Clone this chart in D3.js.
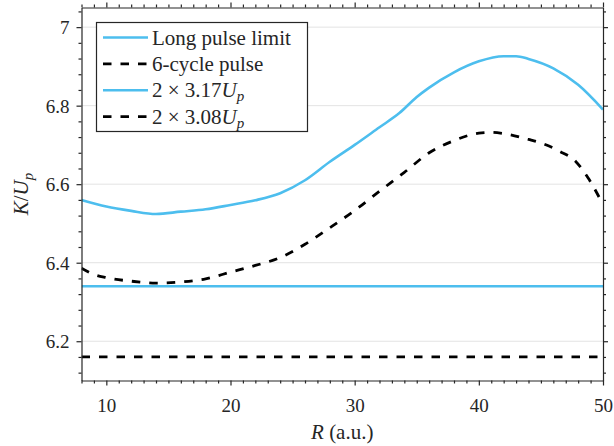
<!DOCTYPE html>
<html>
<head>
<meta charset="utf-8">
<script src="https://cdn.jsdelivr.net/npm/d3@7/dist/d3.min.js"></script>
<style>
  body { margin: 0; background: #fff; }
  .axis path, .axis line { stroke: #262626; stroke-width: 1.2; }
</style>
</head>
<body>
<svg width="614" height="446"></svg>
<script>
// R values (a.u.) for each curve
const rLong = [8, 10, 12, 14, 16, 18, 20, 22, 24, 26, 28, 30, 32, 33.6, 35, 36, 38, 40, 42, 43, 44, 46, 48, 50];
const kLong = [6.560, 6.543, 6.532, 6.524, 6.530, 6.536, 6.547, 6.559, 6.577, 6.610, 6.657, 6.700, 6.745, 6.781, 6.822, 6.846, 6.885, 6.913, 6.926, 6.926, 6.919, 6.895, 6.853, 6.790];

const rSix = [8, 9, 10, 12, 14, 16, 18, 20, 22, 24, 26, 28, 30, 32, 34, 36, 38, 40, 41, 42, 44, 45, 46.5, 47.8, 48.9, 50];
const kSix = [6.386, 6.370, 6.362, 6.353, 6.348, 6.351, 6.359, 6.376, 6.393, 6.413, 6.447, 6.489, 6.533, 6.582, 6.630, 6.680, 6.711, 6.730, 6.732, 6.729, 6.714, 6.705, 6.684, 6.658, 6.611, 6.548];

// constant reference levels
const levels = [{ name: "2 × 3.17", value: 2 * 3.17, kind: "blue" },
                { name: "2 × 3.08", value: 2 * 3.08, kind: "dash" }];

const xMajor = [10, 20, 30, 40, 50];
const yMajor = [6.2, 6.4, 6.6, 6.8, 7];

const legendItems = [
  { label: "Long pulse limit", kind: "blue" },
  { label: "6-cycle pulse", kind: "dash" },
  { label: "2 × 3.17", sub: true, kind: "blue" },
  { label: "2 × 3.08", sub: true, kind: "dash" }
];

const blue = "#4DBEEE";
const dashArr = "8.5,9";
const font = "Liberation Serif, DejaVu Serif, serif";

const svg = d3.select("svg");
const pL = 81.5, pR = 603, pT = 7.5, pB = 380.5;

const x = d3.scaleLinear().domain([8, 50]).range([pL, pR]);
const y = d3.scaleLinear().domain([6.1, 7.05]).range([pB, pT]);

// grid
svg.append("g").selectAll("line").data(yMajor).enter()
  .append("line")
  .attr("x1", pL).attr("x2", pR)
  .attr("y1", d => y(d)).attr("y2", d => y(d))
  .style("stroke", "#e3e3e3").style("stroke-width", 1);

svg.append("defs").append("clipPath").attr("id", "clip")
  .append("rect").attr("x", pL).attr("y", pT)
  .attr("width", pR - pL).attr("height", pB - pT);

const plot = svg.append("g").attr("clip-path", "url(#clip)");

function styleLine(sel, kind) {
  sel.style("fill", "none")
    .style("stroke", kind == "blue" ? blue : "#000")
    .style("stroke-width", kind == "blue" ? 2.6 : 2.8)
    .style("stroke-dasharray", kind == "blue" ? null : dashArr);
}

// constant levels
levels.forEach(l => {
  plot.append("line")
    .attr("x1", x(8)).attr("x2", x(50))
    .attr("y1", y(l.value)).attr("y2", y(l.value))
    .call(styleLine, l.kind);
});

const line = d3.line().curve(d3.curveMonotoneX);

plot.append("path")
  .attr("d", line(rLong.map((r, i) => [x(r), y(kLong[i])])))
  .call(styleLine, "blue");

plot.append("path")
  .attr("d", line(rSix.map((r, i) => [x(r), y(kSix[i])])))
  .call(styleLine, "dash");

// axes: major + minor ticks, all outward
const xMinor = d3.range(8, 51, 1).filter(v => xMajor.indexOf(v) < 0);
const yMinor = d3.range(6.12, 7.05, 0.04).map(v => +v.toFixed(2)).filter(v => yMajor.indexOf(v) < 0);

function addAxis(axisFn, scale, major, minor, transform, labels) {
  const g = svg.append("g").attr("class", "axis").attr("transform", transform);
  g.call(axisFn(scale).tickValues(major).tickSize(5).tickSizeOuter(0)
    .tickFormat(labels ? d3.format("") : ""));
  const gm = svg.append("g").attr("class", "axis").attr("transform", transform);
  gm.call(axisFn(scale).tickValues(minor).tickSize(3).tickSizeOuter(0).tickFormat(""));
  gm.select(".domain").remove();
  return g;
}

const gx = addAxis(d3.axisBottom, x, xMajor, xMinor, `translate(0,${pB})`, true);
gx.selectAll("text").attr("dy", null).attr("y", 31)
  .attr("font-family", font).attr("font-size", 19).attr("fill", "#262626");

const gy = addAxis(d3.axisLeft, y, yMajor, yMinor, `translate(${pL},0)`, true);
gy.selectAll("text").attr("dy", null).attr("x", -12).attr("y", 6.5)
  .attr("font-family", font).attr("font-size", 19).attr("fill", "#262626");

addAxis(d3.axisTop, x, xMajor, xMinor, `translate(0,${pT})`, false);
addAxis(d3.axisRight, y, yMajor, yMinor, `translate(${pR},0)`, false);

// axis labels
svg.append("text")
  .attr("x", (pL + pR) / 2).attr("y", 439)
  .attr("font-family", font).attr("font-size", 21).attr("fill", "#262626")
  .style("text-anchor", "middle")
  .html('<tspan font-style="italic">R</tspan> (a.u.)');

svg.append("text")
  .attr("transform", `translate(28,${(pT + pB) / 2}) rotate(-90)`)
  .attr("font-family", font).attr("font-size", 21).attr("fill", "#262626")
  .style("text-anchor", "middle")
  .html('<tspan font-style="italic">K</tspan>/<tspan font-style="italic">U</tspan><tspan font-style="italic" font-size="15px" dy="5">p</tspan>');

// legend
const lg = svg.append("g");
lg.append("rect")
  .attr("x", 96.5).attr("y", 22.5).attr("width", 211).attr("height", 109)
  .style("fill", "#fff").style("stroke", "#262626").style("stroke-width", 1.2);

const rowY = d => 37.5 + d * 26.4;
legendItems.forEach((it, i) => {
  lg.append("line")
    .attr("x1", 103).attr("x2", 148)
    .attr("y1", rowY(i)).attr("y2", rowY(i))
    .call(styleLine, it.kind);
  const t = lg.append("text")
    .attr("x", 152).attr("y", rowY(i) + 7)
    .attr("font-family", font).attr("font-size", 21).attr("fill", "#262626");
  if (it.sub) {
    t.html(it.label + '<tspan font-style="italic">U</tspan><tspan font-style="italic" font-size="15px" dy="4">p</tspan>');
  } else {
    t.text(it.label);
  }
});
</script>
</body>
</html>
